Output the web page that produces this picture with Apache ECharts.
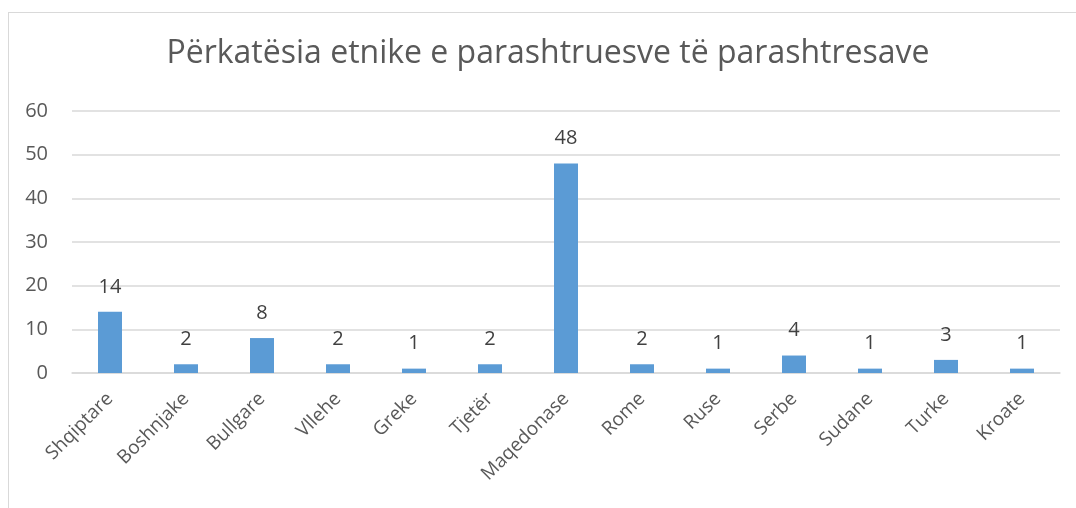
<!DOCTYPE html>
<html>
<head>
<meta charset="utf-8">
<script src="https://cdn.jsdelivr.net/npm/echarts@6/dist/echarts.min.js"></script>
<style>
html,body{margin:0;padding:0;background:#fff;overflow:hidden;width:1076px;height:508px;}
#frame{position:absolute;left:8px;top:12px;width:1100px;height:520px;border:1px solid #d9d9d9;box-sizing:border-box;}
#chart{position:absolute;left:0;top:0;width:1076px;height:508px;}
</style>
</head>
<body>
<div id="frame"></div>
<div id="chart"></div>
<script>
const categories = ['Shqiptare','Boshnjake','Bullgare','Vllehe','Greke','Tjetër','Maqedonase','Rome','Ruse','Serbe','Sudane','Turke','Kroate'];
const values = [14,2,8,2,1,2,48,2,1,4,1,3,1];
const yTicks = [0,10,20,30,40,50,60];
const titleText = 'Përkatësia etnike e parashtruesve të parashtresave';

const chart = echarts.init(document.getElementById('chart'), null, {renderer:'canvas'});
chart.setOption({
  animation:false,
  backgroundColor:'transparent',
  graphic:[{
    type:'text',
    x:548,
    y:38,
    style:{
      text:titleText,
      align:'center',
      verticalAlign:'top',
      fontFamily:'Open Sans',fontSize:32,fontWeight:'normal',fill:'#595959'
    }
  }],
  grid:{left:72,right:16,top:111,bottom:135},
  xAxis:{
    type:'category',
    data:categories,
    axisLine:{lineStyle:{color:'#d9d9d9',width:1.5}},
    axisTick:{show:false},
    axisLabel:{rotate:45,margin:23,fontFamily:'Open Sans',fontSize:19,color:'#595959',interval:0}
  },
  yAxis:{
    type:'value',
    min:yTicks[0],
    max:yTicks[yTicks.length-1],
    interval:10,
    axisLine:{show:false},
    axisTick:{show:false},
    splitLine:{lineStyle:{color:'#d9d9d9',width:1.5}},
    axisLabel:{fontFamily:'Open Sans',fontSize:20,color:'#595959',margin:24,align:'right'}
  },
  series:[{
    type:'bar',
    data:values,
    barWidth:24,
    itemStyle:{color:'#5b9bd5'},
    label:{show:true,position:'top',distance:15,fontFamily:'Open Sans',fontSize:20,color:'#404040'}
  }]
});
</script>
</body>
</html>
